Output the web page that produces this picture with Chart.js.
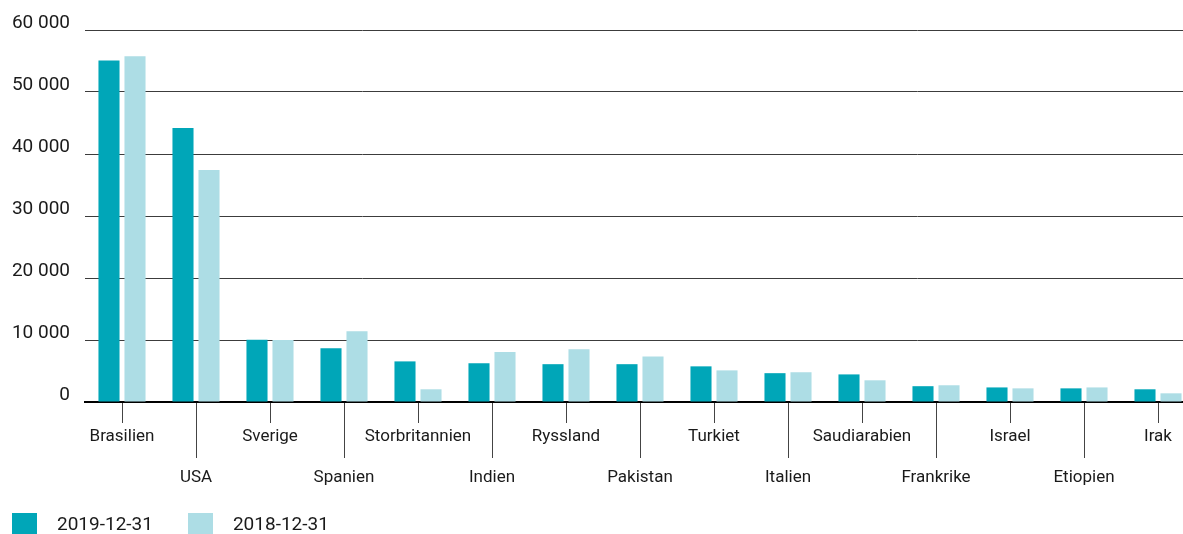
<!DOCTYPE html>
<html>
<head>
<meta charset="utf-8">
<script src="https://cdn.jsdelivr.net/npm/chart.js@4"></script>
<style>
  html, body { margin: 0; padding: 0; background: #fff; overflow: hidden; }
  #wrap { position: relative; width: 1210px; height: 534px; }
  #legend { position: absolute; left: 12px; top: 513px; display: flex; font-family: Roboto, sans-serif; font-size: 19px; color: #1a1a1a; }
  .item { display: flex; align-items: center; height: 21px; margin-right: 35px; }
  .box { width: 25px; height: 21px; margin-right: 20px; }
</style>
</head>
<body>
<div id="wrap">
  <canvas id="chart" width="1210" height="534"></canvas>
  <div id="legend"></div>
</div>
<script>
const countries = ['Brasilien', 'USA', 'Sverige', 'Spanien', 'Storbritannien', 'Indien', 'Ryssland', 'Pakistan', 'Turkiet', 'Italien', 'Saudiarabien', 'Frankrike', 'Israel', 'Etiopien', 'Irak']
const values2019 = [55100, 44200, 10050, 8650, 6550, 6250, 6100, 6100, 5750, 4650, 4450, 2550, 2350, 2200, 2050]
const values2018 = [55750, 37400, 10000, 11400, 2050, 8050, 8500, 7350, 5100, 4800, 3500, 2700, 2200, 2350, 1400]
const seriesNames = ['2019-12-31', '2018-12-31']

// tick marks under the axis, long ones for the second label row
const tickLines = {
  id: 'tickLines',
  afterDraw(chart) {
    const { ctx, chartArea } = chart
    const x = chart.scales.x
    ctx.save()
    ctx.strokeStyle = '#444'
    ctx.lineWidth = 1
    countries.forEach((c, i) => {
      const px = Math.round(x.getPixelForValue(i)) + 0.5
      ctx.beginPath()
      ctx.moveTo(px, chartArea.bottom + 1)
      ctx.lineTo(px, chartArea.bottom + (i % 2 ? 56 : 21))
      ctx.stroke()
    })
    ctx.restore()
  }
}

const htmlLegend = {
  id: 'htmlLegend',
  afterUpdate(chart) {
    const el = document.getElementById('legend')
    el.innerHTML = ''
    chart.data.datasets.forEach(ds => {
      const item = document.createElement('div')
      item.className = 'item'
      const box = document.createElement('span')
      box.className = 'box'
      box.style.background = ds.backgroundColor
      const txt = document.createElement('span')
      txt.textContent = ds.label
      item.appendChild(box)
      item.appendChild(txt)
      el.appendChild(item)
    })
  }
}

const ctx = document.getElementById('chart').getContext('2d')
new Chart(ctx, {
  type: 'bar',
  data: {
    labels: countries,
    datasets: [{
      label: seriesNames[0],
      data: values2019,
      backgroundColor: '#00a6b8',
      categoryPercentage: 0.703,
      barPercentage: 0.81
    }, {
      label: seriesNames[1],
      data: values2018,
      backgroundColor: '#addde5',
      categoryPercentage: 0.703,
      barPercentage: 0.81
    }]
  },
  options: {
    responsive: false,
    animation: false,
    layout: { padding: { top: 30, right: 15, left: 0, bottom: 0 } },
    scales: {
      x: {
        grid: { display: false, drawTicks: false },
        border: { display: true, color: '#000', width: 2 },
        ticks: {
          autoSkip: false,
          maxRotation: 0,
          minRotation: 0,
          padding: 14,
          color: '#1a1a1a',
          font: { family: 'Roboto', size: 17, lineHeight: 2.41 },
          callback: (v, i) => i % 2 ? ['', countries[i]] : [countries[i]]
        },
        afterFit: s => { s.height = 132 }
      },
      y: {
        min: 0,
        max: 60000,
        grid: { color: '#3c3c3c', lineWidth: 1, drawTicks: false },
        border: { display: false },
        ticks: {
          stepSize: 10000,
          padding: 15,
          labelOffset: -7,
          color: '#1a1a1a',
          font: { family: 'Roboto', size: 19 },
          callback: v => String(v).replace(/\B(?=(\d{3})+(?!\d))/g, ' ')
        },
        afterFit: s => { s.width = 85 }
      }
    },
    plugins: {
      legend: { display: false },
      tooltip: { enabled: false }
    }
  },
  plugins: [tickLines, htmlLegend]
})
</script>
</body>
</html>
